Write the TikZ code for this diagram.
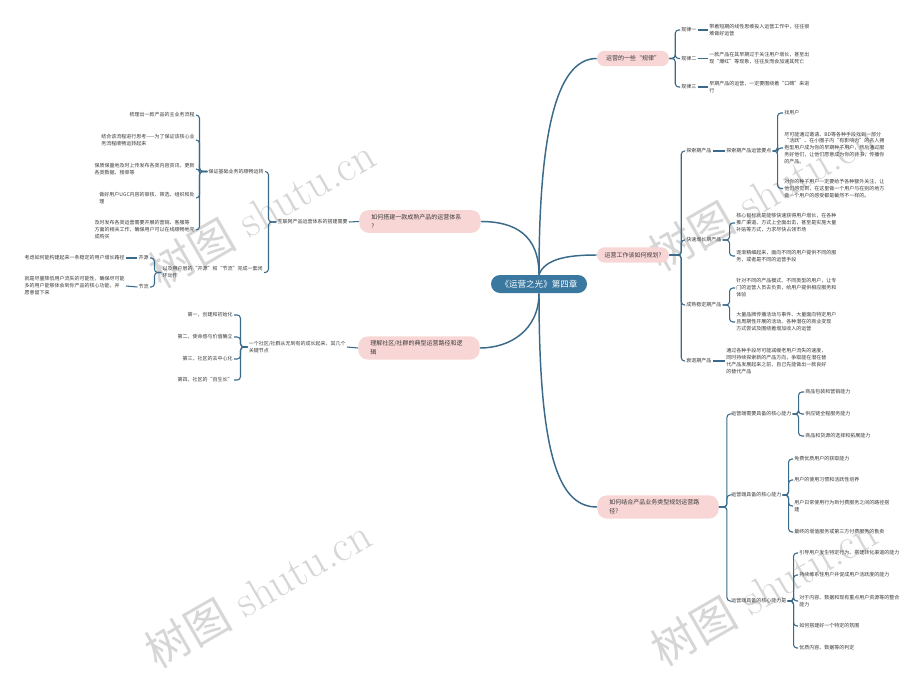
\documentclass[tikz,border=0pt]{standalone}
\usepackage{fontspec}
\newfontfamily\cjk{Noto Sans CJK SC}
\usetikzlibrary{calc}
\definecolor{lnc}{HTML}{3A6A8A}
\definecolor{pinkf}{HTML}{F9D6D6}
\definecolor{rootf}{HTML}{3A78A0}
\definecolor{txt}{HTML}{3A3A3A}
\newcommand\mmR[3]{\foreach \c in {#3}{\draw[brk] (#1.east) -- ++(#2,0) |- (\c.west);}}
\newcommand\mmL[3]{\foreach \c in {#3}{\draw[brk] (#1.west) -- ++(-#2,0) |- (\c.east);}}
\begin{document}
\begin{tikzpicture}[x=0.75pt,y=-0.75pt,
  leaf/.style={font=\cjk\fontsize{3.75}{5.2}\selectfont, text=txt, inner sep=0.75pt, align=left},
  rl/.style={leaf, anchor=west},
  ll/.style={leaf, anchor=east},
  mbox/.style={fill=pinkf, rounded corners=5.6pt, font=\cjk\fontsize{4.5}{6.5}\selectfont, text=txt, minimum height=11.5pt, minimum width=54pt, inner xsep=3pt},
  mbox2/.style={fill=pinkf, rounded corners=7pt, font=\cjk\fontsize{4.5}{6.5}\selectfont, text=txt, minimum height=16.5pt, text width=73pt, inner xsep=9pt, align=left},
  rootbox/.style={fill=rootf, rounded corners=6.75pt, font=\cjk\fontsize{6.4}{8}\selectfont, text=white, minimum height=13.5pt, minimum width=72pt},
  brk/.style={draw=lnc, line width=0.8pt, rounded corners=2.5pt},
  mainline/.style={draw=lnc, line width=1.1pt},
  wm/.style={rotate=30, text=black!16, font=\fontsize{33}{33}\selectfont}]
\useasboundingbox (0,0) rectangle (924,675);
\fill[white] (0,0) rectangle (924,675);
% watermarks
\node[wm] (wm1) at (262,212) {{\cjk 树图} shutu.cn};
\node[wm] (wm2) at (762,195) {{\cjk 树图} shutu.cn};
\node[wm] (wm3) at (258,592) {{\cjk 树图} shutu.cn};
\node[wm] (wm4) at (764,590) {{\cjk 树图} shutu.cn};
% root and main branches
\node[rootbox] (root) at (539,284) {《运营之光》第四章};
\node[mbox] (m1) at (633,58.5) {运营的一些“规律”};
\node[mbox] (m2) at (633,255) {运营工作该如何规划?};
\node[mbox2] (m3) at (658,507) {如何结合产品业务类型规划运营路\\径?};
\node[mbox2] (m4) at (420,221.5) {如何搭建一款成熟产品的运营体系\\?};
\node[mbox2] (m5) at (419,348) {理解社区/社群的典型运营路径和逻\\辑};
\draw[mainline] (root.north) .. controls (539,120) and (560,58.5) .. (m1.west);
\draw[mainline] (root.north) .. controls (545,258) and (570,255) .. (m2.west);
\draw[mainline] (root.south) .. controls (539,460) and (560,507) .. (m3.west);
\draw[mainline] (root.north) .. controls (539,235) and (515,221.5) .. (m4.east);
\draw[mainline] (root.south) .. controls (539,330) and (510,348) .. (m5.east);
% branch 1
\node[rl] (r1) at (680,30) {规律一};
\node[rl] (r2) at (680,58.5) {规律二};
\node[rl] (r3) at (680,87) {规律三};
\node[rl] (r1a) at (708,30) {带着短期的线性思维投入运营工作中，往往很\\难做好运营};
\node[rl] (r2a) at (708,58.5) {一款产品在其早期过于关注用户增长，甚至出\\现“爆红”等现象，往往反而会加速其死亡};
\node[rl] (r3a) at (708,87) {早期产品的运营，一定要围绕着“口碑”来进\\行};
\mmR{m1}{6}{r1,r2,r3}
\draw[brk] (r1.east) -- (r1a.west);
\draw[brk] (r2.east) -- (r2a.west);
\draw[brk] (r3.east) -- (r3a.west);
% branch 2
\node[rl] (e1) at (685,151) {探索期产品};
\node[rl] (e2) at (685,240) {快速增长期产品};
\node[rl] (e3) at (685,305) {成熟稳定期产品};
\node[rl] (e4) at (685,361) {衰退期产品};
\mmR{m2}{12}{e1,e2,e3,e4}
\node[rl] (e1a) at (725,151) {探索期产品运营要点};
\draw[brk] (e1.east) -- (e1a.west);
\node[rl] (e1a1) at (783,113) {找用户};
\node[rl] (e1a2) at (783,148) {尽可能通过邀请、BD等各种手段找到一部分\\“活跃”、在小圈子内“有影响力”的名人拥\\抱型用户成为你的早期种子用户，然后通过服\\务好他们，让他们愿意成为你的背书，传播你\\的产品。};
\node[rl] (e1a3) at (783,188.5) {对你的种子用户一定要给予各种额外关注，让\\他们感觉到，在这里做一个用户与在别的地方\\做一个用户的感受都是截然不一样的。};
\mmR{e1a}{5}{e1a1,e1a2,e1a3}
\node[rl] (e2a) at (735,223) {核心目标就是能够快速获得用户增长，在各种\\推广渠道、方式上全面出击，甚至是实施大量\\补贴等方式，力求尽快占领市场};
\node[rl] (e2b) at (735,256) {逐渐精细起来，面向不同的用户提供不同的服\\务，或者是不同的运营手段};
\mmR{e2}{7}{e2a,e2b}
\node[rl] (e3a) at (735,288) {针对不同的产品模式、不同类型的用户，让专\\门的运营人员去负责，给用户提供相应服务和\\体验};
\node[rl] (e3b) at (735,322) {大量品牌传播活动与事件、大量面向特定用户\\且周期性开展的活动、各种潜在的商业变现\\方式尝试及围绕着增加收入的运营};
\mmR{e3}{7}{e3a,e3b}
\node[rl] (e4a) at (725,361) {通过各种手段尽可能减缓老用户流失的速度，\\同时持续探索新的产品方向，争取能在潜在替\\代产品发展起来之前，自己先能做出一款良好\\的替代产品};
\draw[brk] (e4.east) -- (e4a.west);
% branch 3
\node[rl] (f1) at (730,414) {运营端需要具备的核心能力};
\node[rl] (f2) at (730,495) {运营端具备的核心能力};
\node[rl] (f3) at (730,601) {运营端具备的核心能力是};
\mmR{m3}{8}{f1,f2,f3}
\node[rl] (f1a) at (804,392) {商品包装和营销能力};
\node[rl] (f1b) at (804,414) {供应链全程服务能力};
\node[rl] (f1c) at (804,436) {商品和货源的选择和拓展能力};
\mmR{f1}{6}{f1a,f1b,f1c}
\node[rl] (f2a) at (793,459) {免费优质用户的获取能力};
\node[rl] (f2b) at (793,480) {用户的使用习惯和活跃性培养};
\node[rl] (f2c) at (793,506) {用户日常使用行为到付费服务之间的路径搭\\建};
\node[rl] (f2d) at (793,532) {最终的增值服务或第三方付费服务的售卖};
\mmR{f2}{6}{f2a,f2b,f2c,f2d}
\node[rl] (f3a) at (798,553) {引导用户发生特定行为、搭建转化渠道的能力};
\node[rl] (f3b) at (798,575) {持续维系住用户并促成用户活跃度的能力};
\node[rl] (f3c) at (798,601) {对于内容、数据和现有重点用户资源等的整合\\能力};
\node[rl] (f3d) at (798,626) {如何搭建好一个特定的氛围};
\node[rl] (f3e) at (798,648) {优质内容、数据等的判定};
\mmR{f3}{6}{f3a,f3b,f3c,f3d,f3e}
% branch 4 (left)
\node[ll] (g) at (349,222) {互联网产品运营体系的搭建需要};
\draw[brk] (m4.west) -- (g.east);
\node[ll] (g1) at (265,171.5) {保证基础业务的顺畅运转};
\node[ll] (g2) at (264,272.5) {以及用户层的“开源”和“节流”完成一套闭\\环动作};
\mmL{g}{8}{g1,g2}
\node[ll] (g1a) at (196,115) {梳理出一款产品的主业务流程};
\node[ll] (g1b) at (196,140) {结合该流程进行思考——为了保证该核心业\\务流程顺畅运转起来};
\node[ll] (g1c) at (196,169) {保质保量地及时上传发布各类内容资讯，更新\\各类数据、榜单等};
\node[ll] (g1d) at (196,198) {做好用户UGC内容的审核、筛选、组织和处\\理};
\node[ll] (g1e) at (196,230) {及时发布各类运营需要开展的营销、客服等\\方面的相关工作，确保用户可以在线顺畅地完\\成购买};
\mmL{g1}{8}{g1a,g1b,g1c,g1d,g1e}
\node[ll] (h1) at (150,258) {开源};
\node[ll] (h2) at (150,287) {节流};
\mmL{g2}{7}{h1,h2}
\node[ll] (h1a) at (126,258) {考虑如何能构建起来一条稳定的用户增长路径};
\node[ll] (h2a) at (126,286) {就是尽量降低用户流失的可能性，确保尽可能\\多的用户能够体会到你产品的核心功能，并\\愿意留下来};
\draw[brk] (h1.west) -- (h1a.east);
\draw[brk] (h2.west) -- (h2a.east);
% branch 5 (left)
\node[ll] (k) at (347,347) {一个社区/社群从无到有的成长起来，其几个\\关键节点};
\draw[brk] (m5.west) -- (k.east);
\node[ll] (k1) at (234,315) {第一，创建和初始化};
\node[ll] (k2) at (234,337) {第二，使命感与价值确立};
\node[ll] (k3) at (234,359) {第三，社区的去中心化};
\node[ll] (k4) at (234,380) {第四，社区的“自生长”};
\mmL{k}{7}{k1,k2,k3,k4}
\end{tikzpicture}
\end{document}
